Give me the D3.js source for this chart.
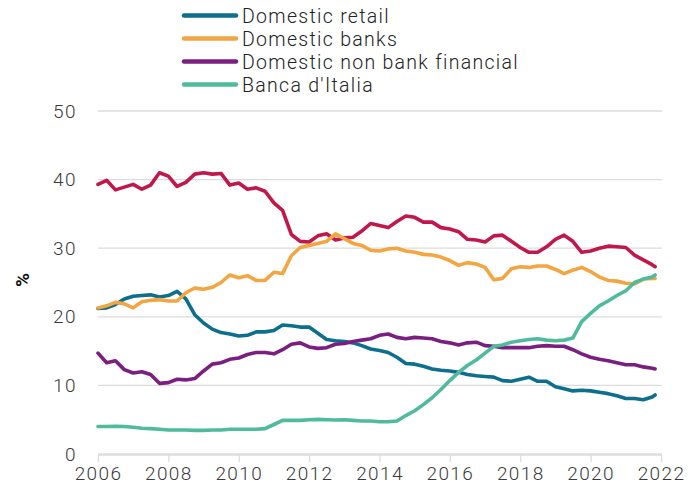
<!DOCTYPE html>
<html>
<head>
<meta charset="utf-8">
<script src="https://cdn.jsdelivr.net/npm/d3@7"></script>
<style>
  html, body { margin: 0; padding: 0; background: #fff; }
  svg { display: block; font-family: "Roboto", sans-serif; }
</style>
</head>
<body>
<svg id="chart" width="700" height="493"></svg>
<script>
// Quarterly observation dates (year-month)
const dates = [
  "2006-01","2006-04","2006-07","2006-10","2007-01","2007-04","2007-07","2007-10",
  "2008-01","2008-04","2008-07","2008-10","2009-01","2009-04","2009-07","2009-10",
  "2010-01","2010-04","2010-07","2010-10","2011-01","2011-04","2011-07","2011-10",
  "2012-01","2012-04","2012-07","2012-10","2013-01","2013-04","2013-07","2013-10",
  "2014-01","2014-04","2014-07","2014-10","2015-01","2015-04","2015-07","2015-10",
  "2016-01","2016-04","2016-07","2016-10","2017-01","2017-04","2017-07","2017-10",
  "2018-01","2018-04","2018-07","2018-10","2019-01","2019-04","2019-07","2019-10",
  "2020-01","2020-04","2020-07","2020-10","2021-01","2021-04","2021-07","2021-10",
  "2021-11"
];

const domesticRetail = [
  21.2,21.3,21.8,22.6,23.0,23.1,23.2,22.9,23.1,23.7,22.6,20.3,19.1,18.2,17.7,17.5,
  17.2,17.3,17.8,17.8,18.0,18.8,18.7,18.5,18.5,17.6,16.7,16.5,16.4,16.2,15.8,15.3,
  15.1,14.8,14.1,13.2,13.1,12.8,12.4,12.2,12.1,11.9,11.6,11.4,11.3,11.2,10.7,10.6,
  10.9,11.2,10.6,10.6,9.8,9.5,9.2,9.3,9.2,9.0,8.8,8.5,8.1,8.1,7.9,8.3,
  8.6
];

const domesticBanks = [
  21.3,21.6,22.1,21.9,21.3,22.2,22.4,22.5,22.3,22.3,23.5,24.2,24.0,24.3,25.0,26.1,
  25.7,26.0,25.3,25.3,26.5,26.3,28.9,30.1,30.4,30.7,31.0,32.1,31.4,30.7,30.4,29.7,
  29.6,29.9,30.0,29.6,29.4,29.1,29.0,28.7,28.2,27.5,27.9,27.7,27.2,25.4,25.6,27.0,
  27.3,27.2,27.4,27.4,26.9,26.3,26.8,27.2,26.6,25.8,25.3,25.2,24.9,24.8,25.5,25.6,
  25.6
];

const domesticNonBank = [
  14.7,13.3,13.6,12.3,11.8,12.0,11.6,10.3,10.4,10.9,10.8,11.0,12.1,13.1,13.3,13.8,
  14.0,14.5,14.8,14.8,14.6,15.2,16.0,16.2,15.6,15.4,15.5,16.0,16.1,16.4,16.6,16.8,
  17.3,17.5,17.0,16.8,17.0,16.9,16.8,16.4,16.2,15.9,16.2,16.3,15.8,15.7,15.5,15.5,
  15.5,15.5,15.7,15.8,15.7,15.7,15.2,14.6,14.1,13.8,13.6,13.3,13.0,13.0,12.7,12.5,
  12.4
];

const bancaItalia = [
  4.0,4.0,4.05,4.0,3.9,3.75,3.7,3.6,3.5,3.5,3.5,3.45,3.45,3.5,3.5,3.6,
  3.6,3.6,3.6,3.7,4.3,4.9,4.9,4.9,5.0,5.05,5.0,4.95,5.0,4.9,4.8,4.8,
  4.7,4.7,4.8,5.6,6.3,7.2,8.2,9.4,10.7,11.9,12.9,13.7,14.7,15.7,15.9,16.3,
  16.5,16.7,16.8,16.6,16.5,16.6,16.9,19.3,20.5,21.6,22.3,23.1,23.8,25.0,25.5,25.8,
  26.1
];

// Unlabelled series (crimson line, not in legend)
const otherHolders = [
  39.3,39.9,38.5,38.9,39.3,38.6,39.2,41.0,40.5,39.0,39.6,40.8,41.0,40.8,40.9,39.2,
  39.5,38.6,38.8,38.3,36.6,35.5,32.0,31.0,30.9,31.8,32.1,31.2,31.5,31.6,32.5,33.6,
  33.3,33.0,33.9,34.7,34.5,33.8,33.8,33.0,32.8,32.4,31.3,31.2,30.9,31.8,31.9,31.0,
  30.1,29.4,29.4,30.2,31.3,31.9,31.0,29.4,29.6,30.0,30.3,30.2,30.1,29.0,28.3,27.6,
  27.3
];

const yTicks = [0, 10, 20, 30, 40, 50];
const xTicks = [2006, 2008, 2010, 2012, 2014, 2016, 2018, 2020, 2022];

const legendLabels = ["Domestic retail", "Domestic banks", "Domestic non bank financial", "Banca d'Italia"];
const colors = {
  retail: "#0d6f8c",
  banks: "#f2a541",
  nonbank: "#7a1f80",
  bdi: "#4fbb9c",
  other: "#c0184b"
};

const FONT = "Roboto, sans-serif";
const svg = d3.select("#chart");
const parse = d3.timeParse("%Y-%m");
const dateObjs = dates.map(parse);

const x = d3.scaleTime()
  .domain([new Date(2006, 0, 1), new Date(2022, 0, 1)])
  .range([98, 661]);
const y = d3.scaleLinear().domain([0, 50]).range([454, 111]);

// gridlines
svg.append("g")
  .selectAll("line")
  .data(yTicks)
  .join("line")
  .attr("x1", 98).attr("x2", 662)
  .attr("y1", d => y(d)).attr("y2", d => y(d))
  .attr("stroke", "#dcdcdc").attr("stroke-width", 1.3);

// y axis labels
const yAxis = d3.axisLeft(y).tickValues(yTicks).tickSize(0).tickPadding(0).tickFormat(d3.format("d"));
const gy = svg.append("g").attr("transform", "translate(77,0)").call(yAxis);
gy.select(".domain").remove();
gy.selectAll("text").attr("font-size", 19).attr("fill", "#3a3a3a").attr("font-family", FONT)
  .attr("font-weight", 300).attr("letter-spacing", 1.4);

// x axis
const xAxis = d3.axisBottom(x)
  .tickValues(xTicks.map(v => new Date(v, 0, 1)))
  .tickFormat(d3.timeFormat("%Y"))
  .tickSize(7).tickPadding(5).tickSizeOuter(0);
const gx = svg.append("g").attr("transform", "translate(0,455)").call(xAxis);
gx.select(".domain").attr("stroke", "#dcdcdc").attr("stroke-width", 1.3).attr("d", "M98,0H662");
gx.selectAll(".tick line").attr("stroke", "#dcdcdc").attr("stroke-width", 1.3);
gx.selectAll("text").attr("font-size", 19).attr("fill", "#3a3a3a").attr("font-family", FONT)
  .attr("font-weight", 300).attr("letter-spacing", 1.4);

// y axis title
svg.append("text")
  .attr("transform", "translate(29,280) rotate(-90)")
  .attr("text-anchor", "middle")
  .attr("font-family", FONT)
  .attr("font-size", 19).attr("font-weight", "bold").attr("fill", "#111")
  .text("%");

// lines
const line = d3.line()
  .x((d, i) => x(dateObjs[i]))
  .y(d => y(d));

const series = [
  { values: otherHolders, color: colors.other },
  { values: domesticRetail, color: colors.retail },
  { values: domesticNonBank, color: colors.nonbank },
  { values: domesticBanks, color: colors.banks },
  { values: bancaItalia, color: colors.bdi }
];

svg.append("g").selectAll("path")
  .data(series)
  .join("path")
  .attr("d", d => line(d.values))
  .attr("fill", "none")
  .attr("stroke", d => d.color)
  .attr("stroke-width", 3.6)
  .attr("stroke-linejoin", "round")
  .attr("stroke-linecap", "round");

// legend
const legendColors = [colors.retail, colors.banks, colors.nonbank, colors.bdi];
const lg = svg.append("g");
legendLabels.forEach((lab, i) => {
  const yy = 15.5 + i * 23;
  lg.append("line")
    .attr("x1", 184).attr("x2", 236)
    .attr("y1", yy).attr("y2", yy)
    .attr("stroke", legendColors[i]).attr("stroke-width", 4.5).attr("stroke-linecap", "round");
  lg.append("text")
    .attr("x", 242).attr("y", yy)
    .attr("dy", "0.36em")
    .attr("font-family", FONT)
    .attr("font-size", 19.5).attr("fill", "#222").attr("font-weight", 300)
    .attr("letter-spacing", 1.3)
    .text(lab);
});
</script>
</body>
</html>
